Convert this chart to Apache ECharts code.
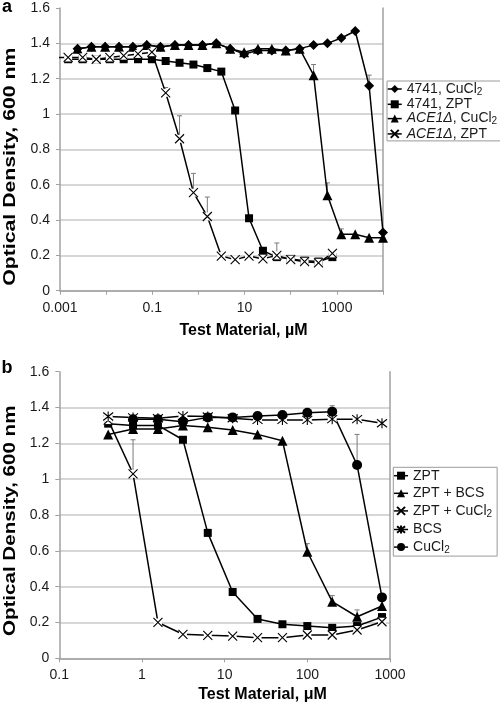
<!DOCTYPE html>
<html>
<head>
<meta charset="utf-8">
<script src="https://cdn.jsdelivr.net/npm/echarts@6/dist/echarts.min.js"></script>
<style>html,body{margin:0;padding:0;background:#fff}#c{width:500px;height:706px}</style>
</head>
<body>
<div id="c"></div>
<script>
// ---------- Panel a data ----------
const CONC_A_ZPT = [0.00076, 0.0015, 0.0031, 0.0061, 0.012, 0.024, 0.049, 0.098, 0.195, 0.39, 0.78, 1.56, 3.13, 6.25, 12.5, 25, 50, 100, 200, 400, 800];
const CONC_A_CU = [0.0024, 0.0048, 0.0095, 0.019, 0.038, 0.076, 0.15, 0.31, 0.61, 1.22, 2.44, 4.88, 9.77, 19.5, 39, 78, 156, 313, 625, 1250, 2500, 5000, 10000];
const A_4741_CU = [1.37, 1.38, 1.38, 1.38, 1.38, 1.39, 1.38, 1.39, 1.39, 1.39, 1.40, 1.37, 1.34, 1.36, 1.36, 1.36, 1.37, 1.39, 1.40, 1.43, 1.47, 1.16, 0.33];
const A_4741_ZPT = [null, 1.31, 1.31, 1.31, 1.31, 1.31, 1.31, 1.31, 1.30, 1.29, 1.28, 1.26, 1.24, 1.02, 0.41, 0.226, 0.19, 0.18, 0.17, 0.165, 0.19];
const A_ACE_CU = [1.37, 1.38, 1.38, 1.38, 1.38, 1.39, 1.38, 1.39, 1.39, 1.39, 1.40, 1.37, 1.35, 1.37, 1.37, 1.36, 1.37, 1.22, 0.54, 0.32, 0.32, 0.30, 0.30];
const A_ACE_ZPT = [1.32, 1.32, 1.32, 1.31, 1.32, 1.33, 1.34, 1.35, 1.12, 0.86, 0.555, 0.42, 0.196, 0.176, 0.196, 0.18, 0.20, 0.176, 0.164, 0.158, 0.211];
const ERR_A = [[0.195, 1.12, 1.15], [0.39, 0.86, 0.99], [0.78, 0.555, 0.664], [1.56, 0.42, 0.53], [50, 0.20, 0.27],
               [313, 1.22, 1.28], [625, 0.54, 0.61], [1250, 0.32, 0.35], [5000, 1.16, 1.22]];
const X_TICKS_A = ['0.001', '0.1', '10', '1000'];
const NAMES_A = ['4741, CuCl2', '4741, ZPT', 'ACE1Δ, CuCl2', 'ACE1Δ, ZPT'];

// ---------- Panel b data ----------
const CONC_B = [0.39, 0.78, 1.56, 3.13, 6.25, 12.5, 25, 50, 100, 200, 400, 800];
const B_ZPT = [1.31, 1.30, 1.30, 1.22, 0.70, 0.37, 0.22, 0.19, 0.18, 0.17, 0.18, 0.23];
const B_ZPT_BCS = [1.25, 1.28, 1.28, 1.30, 1.29, 1.275, 1.25, 1.215, 0.595, 0.316, 0.232, 0.292];
const B_ZPT_CU = [1.33, 1.03, 0.20, 0.134, 0.128, 0.124, 0.115, 0.115, 0.13, 0.13, 0.158, 0.204];
const B_BCS = [1.35, 1.345, 1.34, 1.353, 1.35, 1.34, 1.331, 1.331, 1.331, 1.335, 1.335, 1.312];
const B_CU = [null, 1.335, 1.335, 1.321, 1.345, 1.345, 1.353, 1.358, 1.371, 1.377, 1.079, 0.34];
const ERR_B = [[0.78, 1.03, 1.22], [6.25, 0.70, 0.72], [800, 0.23, 0.25], [100, 0.595, 0.64], [200, 0.316, 0.35],
               [400, 0.232, 0.27], [200, 1.377, 1.41], [400, 1.079, 1.25]];
const X_TICKS_B = ['0.1', '1', '10', '100', '1000'];
const NAMES_B = ['ZPT', 'ZPT + BCS', 'ZPT + CuCl2', 'BCS', 'CuCl2'];

const Y_TICKS = ['0', '0.2', '0.4', '0.6', '0.8', '1', '1.2', '1.4', '1.6'];

// ---------- styles ----------
const FONT = '"Liberation Sans", Arial, sans-serif';
const AXIS = '#a0a0a0';
const GRIDC = '#c8c8c8';
const TXT = '#1a1a1a';
const ERR = '#7a7a7a';
const X_PATH = 'path://M0,0L10,10M10,0L0,10';
const STAR_PATH = 'path://M1,1L9,9M9,1L1,9M5,0L5,10';

function pairs(xs, ys) {
  const out = [];
  ys.forEach((v, i) => { if (v != null) out.push([xs[i], v]); });
  return out;
}
function line(name, xs, ys, symbol, size, xi, yi, clip) {
  return {
    type: 'line', name, xAxisIndex: xi, yAxisIndex: yi, data: pairs(xs, ys),
    symbol, symbolSize: size, clip: !!clip,
    lineStyle: { color: '#000', width: 1.5 },
    itemStyle: { color: '#000', borderWidth: 0 },
    emphasis: { disabled: true }
  };
}
// open (x-type) markers: line, white marker background, then the marker strokes on top
function openLine(name, xs, ys, symbol, size, xi, yi, clip) {
  const data = pairs(xs, ys);
  const base = { type: 'line', xAxisIndex: xi, yAxisIndex: yi, data, clip: !!clip, emphasis: { disabled: true }, silent: true };
  return [
    Object.assign({}, base, { name: name + ' (line)', symbol: 'none', lineStyle: { color: '#000', width: 1.5 } }),
    Object.assign({}, base, { name: name + ' (bg)', symbol: 'rect', symbolSize: size - 1, lineStyle: { opacity: 0, width: 0 },
      itemStyle: { color: '#fff', borderWidth: 0 } }),
    Object.assign({}, base, { name, symbol, symbolSize: size, lineStyle: { color: '#000', width: 1.5, opacity: 0 },
      itemStyle: { color: '#000', borderColor: '#000', borderWidth: 1.1 } })
  ];
}
function errBars(data, xi, yi) {
  return {
    type: 'custom', xAxisIndex: xi, yAxisIndex: yi, data, encode: { x: 0, y: [1, 2] }, clip: false, z: 1, silent: true,
    renderItem: (params, api) => {
      const lo = api.coord([api.value(0), api.value(1)]);
      const hi = api.coord([api.value(0), api.value(2)]);
      return { type: 'group', children: [
        { type: 'line', shape: { x1: lo[0], y1: lo[1], x2: hi[0], y2: hi[1] }, style: { stroke: ERR, lineWidth: 1 } },
        { type: 'line', shape: { x1: hi[0] - 2.5, y1: hi[1], x2: hi[0] + 2.5, y2: hi[1] }, style: { stroke: ERR, lineWidth: 1 } }
      ] };
    }
  };
}
function logLabel(ticks) {
  return v => {
    const e = Math.round(Math.log10(v));
    const t = ticks.find(s => Math.round(Math.log10(parseFloat(s))) === e);
    return t || '';
  };
}
function xAxis(gi, min, max, ticks) {
  return {
    gridIndex: gi, type: 'log', logBase: 10, min, max,
    axisLine: { lineStyle: { color: AXIS, width: 1.5 } },
    axisTick: { show: true, length: 4, lineStyle: { color: AXIS, width: 1 } },
    splitLine: { show: false },
    axisLabel: { formatter: logLabel(ticks), margin: 10, fontSize: 14, color: TXT, fontFamily: FONT, showMinLabel: true, showMaxLabel: true, hideOverlap: false }
  };
}
function yAxis(gi) {
  return {
    gridIndex: gi, type: 'value', min: 0, max: 1.6, interval: 0.2, position: 'left',
    axisLine: { show: true, lineStyle: { color: AXIS, width: 1.5 } },
    axisTick: { show: true, length: 4, lineStyle: { color: AXIS, width: 1 } },
    splitLine: { show: true, showMaxLine: false, lineStyle: { color: GRIDC, width: 1.5 } },
    axisLabel: { formatter: v => Y_TICKS[Math.round(v / 0.2)], margin: 10, fontSize: 14, color: TXT, fontFamily: FONT }
  };
}
function yBorder(gi) {
  return {
    gridIndex: gi, type: 'value', min: 0, max: 1.6, position: 'right',
    axisLine: { show: true, lineStyle: { color: AXIS, width: 1.5 } },
    axisTick: { show: false }, axisLabel: { show: false }, splitLine: { show: false }
  };
}
function legendFmt(name) {
  let s = name;
  let sub = '';
  if (s.endsWith('CuCl2')) { s = s.slice(0, -1); sub = '{s|2}'; }
  if (s.startsWith('ACE1Δ')) return '{i|ACE1Δ}{t|' + s.slice(5) + '}' + sub;
  return '{t|' + s + '}' + sub;
}
const RICH = {
  t: { fontSize: 14, lineHeight: 16, fontFamily: FONT, color: TXT },
  i: { fontSize: 14, lineHeight: 16, fontFamily: FONT, color: TXT, fontStyle: 'italic' },
  s: { fontSize: 10, lineHeight: 10, fontFamily: FONT, color: TXT, verticalAlign: 'bottom' }
};
function legend(names, left, top, gap, iw, padding) {
  return {
    data: names, orient: 'vertical', left, top, itemGap: gap, itemWidth: iw, itemHeight: 10,
    padding, borderColor: '#9a9a9a', borderWidth: 1, selectedMode: false,
    lineStyle: { color: '#000', width: 1.5, opacity: 1 },
    formatter: legendFmt, textStyle: { rich: RICH, fontSize: 14, fontFamily: FONT, color: TXT }
  };
}
function txt(text, x, y, size, opts) {
  return Object.assign({
    type: 'text', x, y, silent: true,
    style: { text, font: 'bold ' + size + 'px ' + FONT, fill: '#000', textAlign: 'center', textVerticalAlign: 'middle', align: 'center', verticalAlign: 'middle' }
  }, opts || {});
}

const option = {
  animation: false,
  backgroundColor: '#fff',
  grid: [
    { left: 60, top: 8, width: 323, height: 282.7 },
    { left: 59.3, top: 371.7, width: 330.7, height: 286.6 }
  ],
  xAxis: [xAxis(0, 0.001, 10000, X_TICKS_A), xAxis(1, 0.1, 1000, X_TICKS_B)],
  yAxis: [yAxis(0), yBorder(0), yAxis(1), yBorder(1)],
  legend: [
    legend(NAMES_A, 387, 81, 0.3, 14, [1, 4, 0, 0]),
    legend(NAMES_B, 393.3, 467.3, 3.6, 14, [1.4, 5, 1, 0])
  ],
  graphic: [
    txt('a', 7, 7, 18),
    txt('b', 7, 368, 18),
    txt('Optical Density, 600 nm', 10.5, 166.7, 17, { rotation: Math.PI / 2, scaleX: 1.25 }),
    txt('Optical Density, 600 nm', 10.5, 520.8, 17, { rotation: Math.PI / 2, scaleX: 1.21 }),
    txt('Test Material, µM', 243.5, 331, 16),
    txt('Test Material, μM', 262.5, 695, 16)
  ],
  series: [].concat(
    errBars(ERR_A, 0, 0),
    line(NAMES_A[0], CONC_A_CU, A_4741_CU, 'diamond', 10, 0, 0),
    line(NAMES_A[1], CONC_A_ZPT, A_4741_ZPT, 'rect', 8, 0, 0),
    line(NAMES_A[2], CONC_A_CU, A_ACE_CU, 'triangle', 10, 0, 0),
    openLine(NAMES_A[3], CONC_A_ZPT, A_ACE_ZPT, X_PATH, 9, 0, 0, true),
    errBars(ERR_B, 1, 2),
    line(NAMES_B[0], CONC_B, B_ZPT, 'rect', 8, 1, 2),
    line(NAMES_B[1], CONC_B, B_ZPT_BCS, 'triangle', 10, 1, 2),
    openLine(NAMES_B[2], CONC_B, B_ZPT_CU, X_PATH, 9, 1, 2),
    openLine(NAMES_B[3], CONC_B, B_BCS, STAR_PATH, 10, 1, 2),
    line(NAMES_B[4], CONC_B, B_CU, 'circle', 10, 1, 2)
  )
};
const chart = echarts.init(document.getElementById('c'), null, { renderer: 'canvas' });
chart.setOption(option);
</script>
</body>
</html>
